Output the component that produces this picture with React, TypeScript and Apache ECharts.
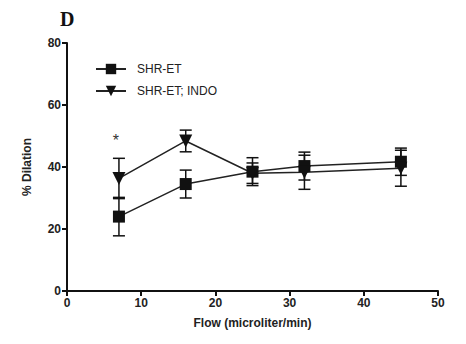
import React, { useEffect, useRef } from "react";
import * as echarts from "echarts";

const flow = [7, 16, 25, 32, 45];
const shrEt = [24, 34.5, 38.5, 40.3, 41.7];
const shrEtErr = [6.2, 4.5, 4.5, 4.5, 4.4];
const indo = [36.3, 48.4, 38, 38.3, 39.6];
const indoErr = [6.5, 3.5, 3.3, 5.5, 5.8];
const xTicks = [0, 10, 20, 30, 40, 50];
const yTicks = [0, 20, 40, 60, 80];
const starPoint = [6.6, 48.5];

const TRI_DOWN = "path://M0,0 L10,0 L5,10 Z";

function errData(vals: number[], errs: number[]) {
  return flow.map((f, i) => [f, vals[i] - errs[i], vals[i] + errs[i]]);
}

function renderErr(params: any, api: any) {
  const x = api.value(0);
  const lo = api.coord([x, api.value(1)]);
  const hi = api.coord([x, api.value(2)]);
  const w = 6;
  const style = { stroke: "#111", lineWidth: 1.5 };
  return {
    type: "group",
    children: [
      { type: "line", shape: { x1: lo[0], y1: lo[1], x2: hi[0], y2: hi[1] }, style },
      { type: "line", shape: { x1: lo[0] - w, y1: lo[1], x2: lo[0] + w, y2: lo[1] }, style },
      { type: "line", shape: { x1: hi[0] - w, y1: hi[1], x2: hi[0] + w, y2: hi[1] }, style },
    ],
  };
}

export default function App() {
  const ref = useRef<HTMLDivElement>(null);
  useEffect(() => {
    const chart = echarts.init(ref.current!, null, { renderer: "svg" });
    const font = "Liberation Sans, Arial, sans-serif";
    chart.setOption({
      animation: false,
      backgroundColor: "#fff",
      title: {
        text: "D",
        left: 55,
        top: 4,
        textStyle: { fontFamily: "Liberation Serif, Times New Roman, serif", fontWeight: "bold", fontSize: 20, color: "#111" },
      },
      legend: {
        orient: "vertical",
        left: 90,
        top: 58,
        itemWidth: 30,
        itemHeight: 13,
        itemGap: 10,
        textStyle: { fontFamily: font, fontSize: 12, color: "#222", padding: [0, 0, 0, 6] },
        data: ["SHR-ET", "SHR-ET; INDO"],
      },
      grid: { left: 67, right: 28, top: 43, bottom: 53 },
      xAxis: {
        type: "value",
        min: xTicks[0],
        max: xTicks[xTicks.length - 1],
        interval: 10,
        name: "Flow (microliter/min)",
        nameLocation: "middle",
        nameGap: 26,
        nameTextStyle: { fontFamily: font, fontWeight: "bold", fontSize: 12, color: "#222" },
        axisLine: { lineStyle: { color: "#111", width: 2 } },
        axisTick: { show: true, length: 5, lineStyle: { color: "#111", width: 2 } },
        axisLabel: { fontFamily: font, fontWeight: "bold", fontSize: 12, color: "#222", margin: 6 },
        splitLine: { show: false },
      },
      yAxis: {
        type: "value",
        min: yTicks[0],
        max: yTicks[yTicks.length - 1],
        interval: 20,
        name: "% Dilation",
        nameLocation: "middle",
        nameGap: 34,
        nameTextStyle: { fontFamily: font, fontWeight: "bold", fontSize: 12, color: "#222" },
        axisLine: { show: true, lineStyle: { color: "#111", width: 2 } },
        axisTick: { show: true, length: 5, lineStyle: { color: "#111", width: 2 } },
        axisLabel: { fontFamily: font, fontWeight: "bold", fontSize: 12, color: "#222", margin: 6 },
        splitLine: { show: false },
      },
      series: [
        {
          type: "custom",
          name: "errA",
          renderItem: renderErr,
          data: errData(shrEt, shrEtErr),
          z: 1,
          silent: true,
        },
        {
          type: "custom",
          name: "errB",
          renderItem: renderErr,
          data: errData(indo, indoErr),
          z: 1,
          silent: true,
        },
        {
          type: "line",
          name: "SHR-ET",
          data: flow.map((f, i) => [f, shrEt[i]]),
          symbol: "rect",
          symbolSize: 12,
          lineStyle: { color: "#222", width: 1.5 },
          itemStyle: { color: "#111" },
          z: 3,
        },
        {
          type: "line",
          name: "SHR-ET; INDO",
          data: flow.map((f, i) => [f, indo[i]]),
          symbol: TRI_DOWN,
          symbolSize: 13,
          lineStyle: { color: "#222", width: 1.5 },
          itemStyle: { color: "#111" },
          z: 3,
          markPoint: {
            symbol: "circle",
            symbolSize: 1,
            itemStyle: { color: "transparent" },
            label: { show: true, formatter: "*", fontFamily: font, fontSize: 16, color: "#333", position: "inside" },
            data: [{ coord: starPoint }],
          },
        },
      ],
    });
    return () => chart.dispose();
  }, []);
  return <div ref={ref} style={{ width: 466, height: 344, position: "absolute", left: 0, top: 0 }} />;
}
